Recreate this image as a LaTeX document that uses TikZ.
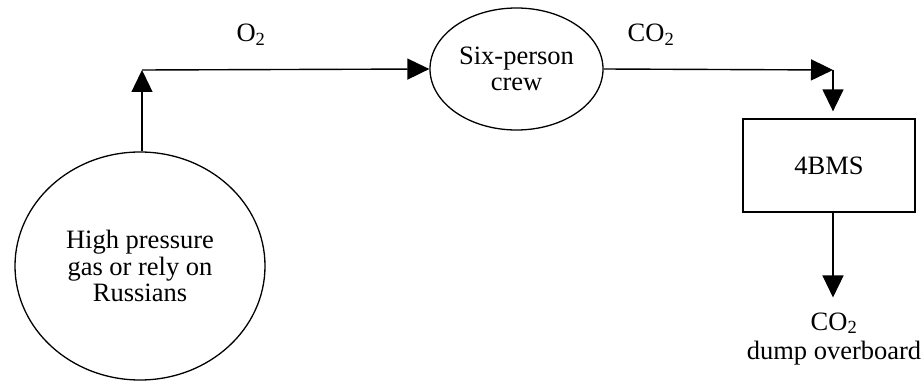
\documentclass[tikz,border=0pt]{standalone}
\usepackage{fontspec}
\setmainfont{Liberation Serif}
\usepackage{tikz}
\usetikzlibrary{arrows,arrows.meta,positioning,calc,shapes.geometric}
\tikzstyle{blob}=[draw,ellipse,line width=1.3pt,inner sep=0pt,align=center]
\tikzstyle{unit}=[draw,rectangle,line width=1.3pt,inner sep=0pt]
\tikzstyle{flow}=[line width=1.4pt,-{Triangle[length=22pt,width=21pt]}]

\begin{document}
\begin{tikzpicture}[x=1pt,y=-1pt,every node/.style={font=\fontsize{26.5}{26.5}\selectfont}]
\useasboundingbox (0,0) rectangle (924,382);
\node [blob,minimum width=250pt,minimum height=228pt] (supply) at (140,266) {High pressure\\gas or rely on\\Russians};
\node [blob,minimum width=173pt,minimum height=122pt] (crew) at (516.5,69) {Six-person\\crew};
\node [unit,minimum width=172pt,minimum height=93pt] (bms) at (829,165.5) {4BMS};
\node [align=center,inner sep=0pt] (dump) at (834,339) {CO\textsubscript{2}\\[3pt]dump overboard};
\coordinate (o2turn) at (142,70);
\coordinate (co2turn) at (833,70);
\node [anchor=base] (o2) at (251,42) {O\textsubscript{2}};
\node [anchor=base] (co2) at (651,42) {CO\textsubscript{2}};
\draw [flow] (o2turn |- supply.north) -- (o2turn);
\draw [flow] (o2turn) -- (crew.west);
\draw [flow] (crew.east) -- (co2turn);
\draw [flow,shorten >=7pt] (co2turn) -- (co2turn |- bms.north);
\draw [flow,shorten >=15pt] (co2turn |- bms.south) -- (co2turn |- dump.north);
\end{tikzpicture}
\end{document}
